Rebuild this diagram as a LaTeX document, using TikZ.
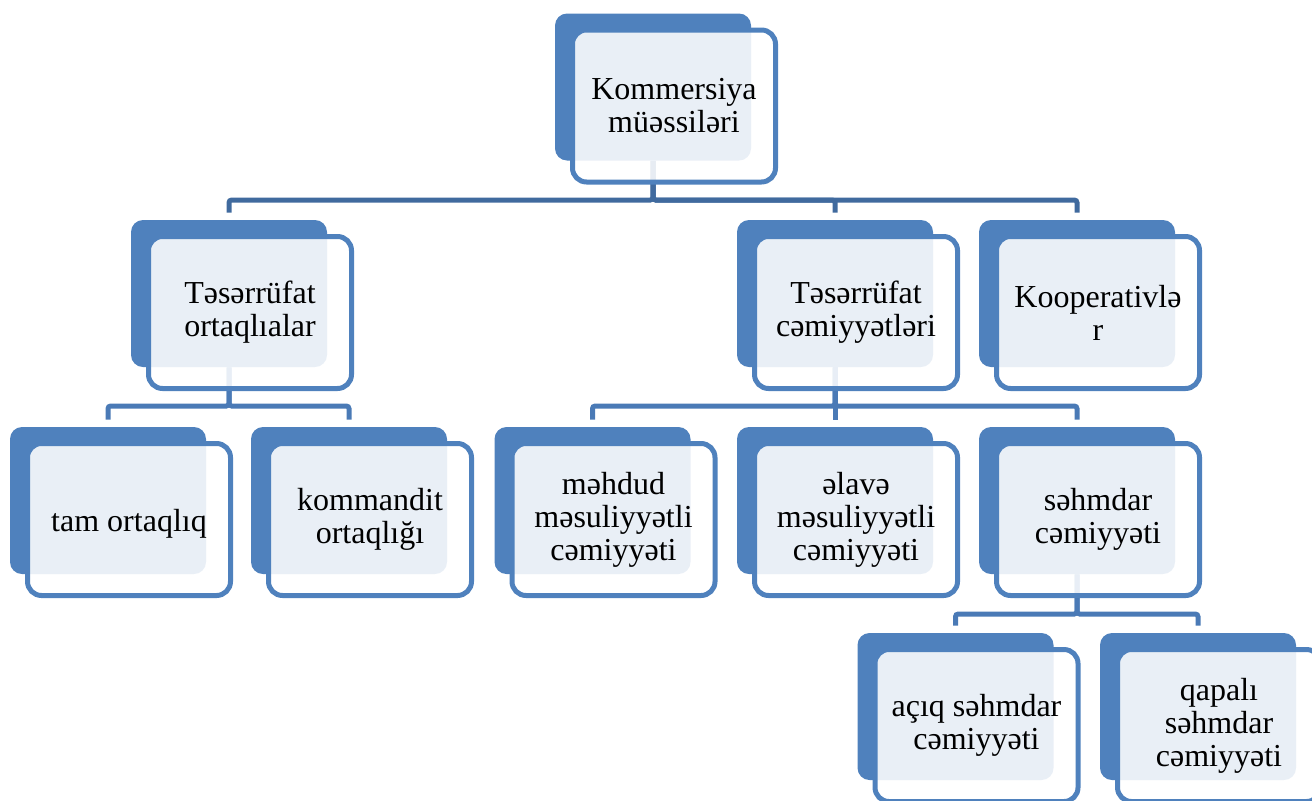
\documentclass[tikz,border=0pt]{standalone}
\usepackage{fontspec}
\setmainfont{Liberation Serif}
\usepackage{tikz}
\usetikzlibrary{calc, backgrounds}
\usepackage{xcolor}
\definecolor{boxblue}{RGB}{79,129,189}
\definecolor{linkdark}{RGB}{64,106,158}
\definecolor{linkblue}{RGB}{74,122,182}

\begin{document}
\begin{tikzpicture}[
    x=0.75pt, y=-0.75pt,
    back/.style={rectangle, fill=boxblue, minimum width=147pt, minimum height=110.25pt, rounded corners=9pt, inner sep=0pt},
    front/.style={rectangle, draw=boxblue, line width=3.75pt, fill=white, fill opacity=0.88, text opacity=1, minimum width=152.25pt, minimum height=114pt, rounded corners=10.5pt, align=center, inner sep=0pt, font=\fontsize{24}{24.75}\selectfont, execute at begin node={\rule{0pt}{23pt}}, xshift=15.75pt, yshift=-14.25pt},
    trunk/.style={draw=linkdark, line width=3.75pt, rounded corners=2pt, shorten >=5.25pt},
    branch/.style={trunk, draw=linkblue}
]
\useasboundingbox (0,0) rectangle (1312,800);
\clip (0,0) rectangle (1312,800);

\coordinate (bar1) at (0,200);
\coordinate (bar2) at (0,406);
\coordinate (bar3) at (0,614);

% top
\node[back] (kom) at (653,87) {};
\node[front] (kom-f) at (kom) {Kommersiya\\müəssiləri};

% level 1
\node[back] (tor) at (229,293.5) {};
\node[front] (tor-f) at (tor) {Təsərrüfat\\ortaqlıalar};
\node[back] (tcm) at (835,293.5) {};
\node[front] (tcm-f) at (tcm) {Təsərrüfat\\cəmiyyətləri};
\node[back] (koop) at (1077,293.5) {};
\node[front] (koop-f) at (koop) {Kooperativlə\\r};

% level 2
\node[back] (tam) at (108,500.5) {};
\node[front] (tam-f) at (tam) {tam ortaqlıq};
\node[back] (kmd) at (349,500.5) {};
\node[front] (kmd-f) at (kmd) {kommandit\\ortaqlığı};
\node[back] (mhd) at (592.5,500.5) {};
\node[front] (mhd-f) at (mhd) {məhdud\\məsuliyyətli\\cəmiyyəti};
\node[back] (elv) at (835,500.5) {};
\node[front] (elv-f) at (elv) {əlavə\\məsuliyyətli\\cəmiyyəti};
\node[back] (shm) at (1077,500.5) {};
\node[front] (shm-f) at (shm) {səhmdar\\cəmiyyəti};

% level 3
\node[back] (aciq) at (955.5,706.5) {};
\node[front] (aciq-f) at (aciq) {açıq səhmdar\\cəmiyyəti};
\node[back] (qap) at (1198,706.5) {};
\node[front] (qap-f) at (qap) {qapalı\\səhmdar\\cəmiyyəti};

\begin{scope}[on background layer]
\draw[trunk] (kom.south) -- (kom.south |- bar1) -| (tor.north);
\draw[trunk] (kom.south) -- (kom.south |- bar1) -| (tcm.north);
\draw[trunk] (kom.south) -- (kom.south |- bar1) -| (koop.north);

\draw[branch] (tor.south) -- (tor.south |- bar2) -| (tam.north);
\draw[branch] (tor.south) -- (tor.south |- bar2) -| (kmd.north);

\draw[branch] (tcm.south) -- (tcm.south |- bar2) -| (mhd.north);
\draw[branch] (tcm.south) -- (elv.north);
\draw[branch] (tcm.south) -- (tcm.south |- bar2) -| (shm.north);

\draw[branch] (shm.south) -- (shm.south |- bar3) -| (aciq.north);
\draw[branch] (shm.south) -- (shm.south |- bar3) -| (qap.north);
\end{scope}
\end{tikzpicture}
\end{document}
